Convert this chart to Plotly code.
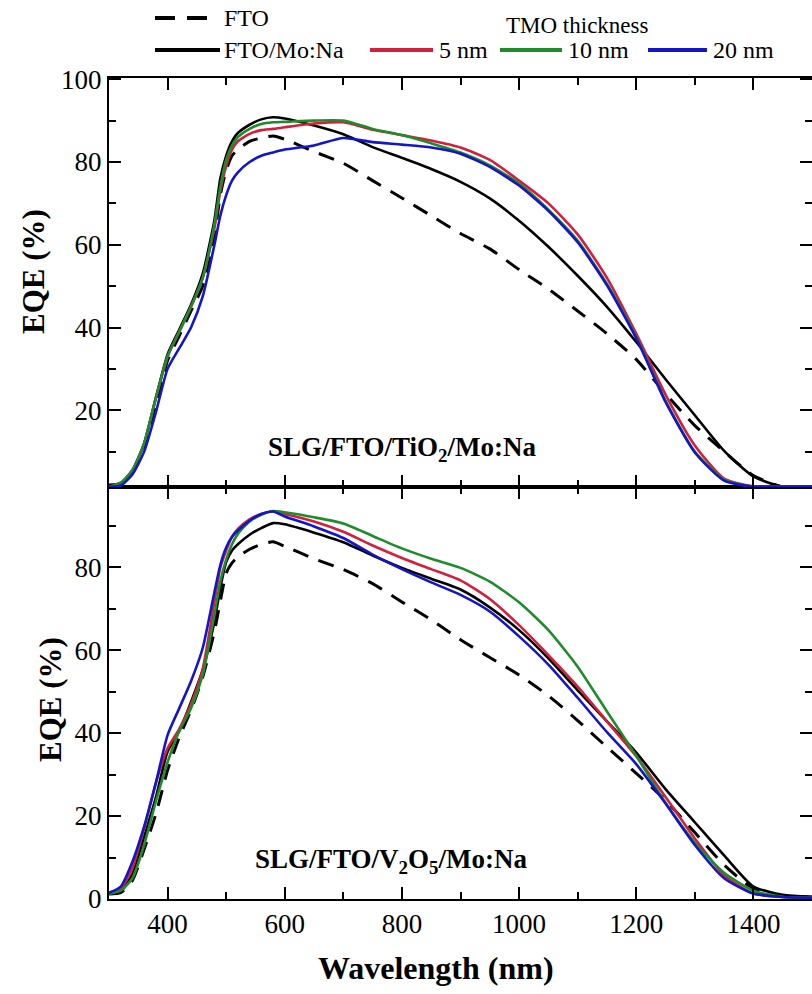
import plotly.graph_objects as go

# ---------------- data ----------------
wl = [300, 320, 340, 360, 380, 400, 420, 440, 460, 480, 490, 500, 510, 520, 540, 560, 580, 600,
      650, 700, 750, 800, 850, 900, 950, 1000, 1050, 1100, 1150, 1200, 1250, 1300, 1350, 1400, 1450, 1500]

# Top panel: SLG/FTO/TiO2/Mo:Na
top_fto = [1.8, 2.0, 5.0, 11.0, 21.0, 32.0, 38.0, 44.0, 50.0, 62.0, 72.0, 78.0, 81.5, 83.0, 85.0, 85.8, 86.3, 85.5,
           82.5, 79.7, 75.5, 71.3, 67.0, 62.7, 59.0, 54.0, 49.3, 44.0, 38.5, 32.3, 24.0, 16.3, 10.0, 4.2, 1.5, 1.5]
top_mona = [2.0, 2.3, 5.5, 12.0, 23.0, 33.5, 39.5, 45.5, 53.0, 66.0, 76.0, 81.5, 85.0, 87.0, 89.0, 90.3, 90.8, 90.5,
            88.8, 86.7, 83.6, 81.0, 78.3, 75.2, 71.2, 65.8, 59.5, 52.5, 45.0, 36.5, 27.5, 18.8, 10.2, 4.0, 1.5, 1.5]
top_5 = [1.5, 2.5, 5.5, 12.0, 23.0, 33.0, 39.0, 45.0, 52.0, 64.0, 73.0, 79.0, 83.0, 85.0, 86.8, 87.7, 88.0, 88.4,
         89.3, 89.6, 87.8, 86.5, 85.2, 83.5, 80.5, 75.5, 70.0, 62.5, 52.0, 38.5, 23.8, 11.5, 3.5, 1.6, 1.5, 1.5]
top_10 = [1.5, 2.5, 5.5, 12.0, 23.0, 33.0, 39.0, 45.0, 52.0, 65.0, 74.0, 80.5, 84.0, 86.0, 88.0, 89.2, 89.6, 89.7,
          90.0, 90.0, 88.0, 86.5, 84.5, 82.3, 79.2, 74.8, 68.5, 61.0, 50.5, 37.7, 22.3, 10.0, 3.2, 1.5, 1.5, 1.5]
top_20 = [1.5, 1.8, 4.5, 10.0, 19.5, 30.0, 35.0, 40.0, 47.5, 60.0, 67.0, 72.0, 75.5, 77.5, 80.0, 81.5, 82.3, 83.0,
          84.0, 85.8, 84.8, 84.2, 83.5, 82.0, 78.8, 74.3, 68.2, 60.6, 50.2, 37.4, 22.0, 9.8, 3.0, 1.5, 1.5, 1.5]

# Bottom panel: SLG/FTO/V2O5/Mo:Na
bot_fto = [1.2, 1.5, 4.5, 12.0, 20.5, 31.0, 39.0, 45.5, 53.5, 64.5, 71.8, 78.5, 81.0, 82.5, 84.3, 85.5, 86.1, 85.0,
           82.0, 79.4, 76.0, 71.6, 67.3, 62.5, 58.2, 54.0, 49.0, 43.0, 36.6, 30.3, 23.8, 16.0, 8.2, 2.5, 0.8, 0.5]
bot_mona = [1.4, 1.8, 6.0, 15.0, 24.5, 35.5, 40.5, 47.5, 55.2, 66.9, 75.0, 81.2, 84.0, 85.5, 87.8, 89.4, 90.6, 90.3,
            88.3, 86.0, 82.8, 79.8, 77.2, 74.6, 70.3, 64.8, 58.0, 50.3, 42.8, 35.3, 26.5, 18.5, 10.5, 3.0, 1.0, 0.5]
bot_5 = [1.5, 2.5, 7.5, 17.0, 28.0, 36.3, 41.0, 47.0, 55.5, 71.7, 79.8, 84.0, 87.3, 89.2, 91.5, 92.8, 93.4, 92.8,
         91.0, 88.5, 85.2, 82.2, 79.5, 76.8, 72.3, 66.0, 58.8, 51.2, 42.8, 34.4, 24.6, 14.6, 5.7, 1.3, 0.5, 0.3]
bot_10 = [1.3, 2.0, 5.0, 13.0, 23.5, 33.0, 40.5, 46.0, 54.0, 68.5, 76.5, 81.8, 85.5, 88.0, 91.0, 92.6, 93.5, 93.2,
          92.0, 90.5, 87.5, 84.5, 82.0, 79.8, 76.5, 71.5, 64.8, 56.0, 45.2, 34.5, 23.2, 13.6, 6.3, 2.0, 0.5, 0.3]
bot_20 = [1.5, 3.0, 9.0, 17.5, 28.0, 39.5, 46.0, 52.5, 60.5, 74.0, 80.5, 84.7, 87.3, 88.8, 91.2, 92.8, 93.4, 92.2,
          89.8, 87.0, 83.0, 79.5, 76.3, 73.3, 69.3, 63.3, 56.5, 48.5, 40.2, 32.5, 23.0, 13.0, 5.0, 1.3, 0.5, 0.3]

x_range = [300, 1500]
top_y_range = [1.45, 100.3]
bot_y_range = [0, 99.3]
x_tick_step = 200
y_tick_step = 20

series_names = ["FTO", "FTO/Mo:Na", "5 nm", "10 nm", "20 nm"]
colors = ["black", "black", "#d21f3c", "#1f8c2a", "#1414c8"]
dashes = ["16px,11px", "solid", "solid", "solid", "solid"]

# ---------------- geometry helpers (pixels -> paper) ----------------
W_FIG, H_FIG = 812, 994
L, R, T, B = 109, 0, 78, 95
PW = W_FIG - L - R
PH = H_FIG - T - B
def xp(px):
    return (px - L) / PW
def yp(py):
    return (H_FIG - B - py) / PH

split = yp(487)

FONT = "Liberation Serif, Times New Roman, serif"

fig = go.Figure()

top_data = [top_fto, top_mona, top_5, top_10, top_20]
bot_data = [bot_fto, bot_mona, bot_5, bot_10, bot_20]

for i, name in enumerate(series_names):
    w = 3 if i == 0 else 2.6
    fig.add_trace(go.Scatter(x=wl, y=top_data[i], mode="lines", name=name, showlegend=False,
                             line=dict(color=colors[i], width=w, dash=dashes[i], shape="spline", smoothing=0.6),
                             xaxis="x2", yaxis="y2"))
for i, name in enumerate(series_names):
    w = 3 if i == 0 else 2.6
    fig.add_trace(go.Scatter(x=wl, y=bot_data[i], mode="lines", name=name, showlegend=False,
                             line=dict(color=colors[i], width=w, dash=dashes[i], shape="spline", smoothing=0.6),
                             xaxis="x", yaxis="y"))

# empty helper traces so the mirrored (frame) axes are drawn
for xa, ya in [("x3", "y"), ("x", "y3"), ("x4", "y2"), ("x2", "y4")]:
    fig.add_trace(go.Scatter(x=[], y=[], mode="lines", showlegend=False, hoverinfo="skip",
                             xaxis=xa, yaxis=ya))

tickfont = dict(family=FONT, size=27, color="black")
base_ax = dict(showline=True, linecolor="black", linewidth=2,
               ticks="inside", ticklen=12, tickwidth=2, tickcolor="black",
               showgrid=False, zeroline=False, tickfont=tickfont)

minor_x = dict(dtick=100, tick0=0, ticks="inside", ticklen=7, tickwidth=2, tickcolor="black", showgrid=False)
minor_y = dict(dtick=10, tick0=0, ticks="inside", ticklen=7, tickwidth=2, tickcolor="black", showgrid=False)

def xax(**kw):
    d = dict(base_ax)
    d.update(range=x_range, tickmode="linear", tick0=0, dtick=x_tick_step, minor=minor_x, domain=[0, 1])
    d.update(kw)
    return d

def yax(rng, dom, **kw):
    d = dict(base_ax)
    d.update(range=rng, tickmode="linear", tick0=0, dtick=y_tick_step, minor=minor_y, domain=dom)
    d.update(kw)
    return d

fig.update_layout(
    width=W_FIG, height=H_FIG,
    margin=dict(l=L, r=R, t=T, b=B),
    paper_bgcolor="white", plot_bgcolor="white",
    showlegend=False,
    # bottom panel
    xaxis=xax(anchor="y", side="bottom"),
    xaxis3=xax(anchor="y", overlaying="x", side="top", showticklabels=False),
    yaxis=yax(bot_y_range, [0, split], anchor="x", side="left"),
    yaxis3=yax(bot_y_range, [0, split], anchor="x", overlaying="y", side="right", showticklabels=False),
    # top panel
    xaxis2=xax(anchor="y2", side="bottom", showticklabels=False),
    xaxis4=xax(anchor="y2", overlaying="x2", side="top", showticklabels=False),
    yaxis2=yax(top_y_range, [split, 1], anchor="x2", side="left"),
    yaxis4=yax(top_y_range, [split, 1], anchor="x2", overlaying="y2", side="right", showticklabels=False),
)

ann = []
# axis titles
ann.append(dict(text="<b>EQE (%)</b>", x=xp(33), y=yp(272), xref="paper", yref="paper", textangle=-90,
                showarrow=False, font=dict(family=FONT, size=31, color="black"), xanchor="center", yanchor="middle"))
ann.append(dict(text="<b>EQE (%)</b>", x=xp(50), y=yp(700), xref="paper", yref="paper", textangle=-90,
                showarrow=False, font=dict(family=FONT, size=31, color="black"), xanchor="center", yanchor="middle"))
ann.append(dict(text="<b>Wavelength (nm)</b>", x=xp(436), y=yp(968), xref="paper", yref="paper",
                showarrow=False, font=dict(family=FONT, size=32, color="black"), xanchor="center", yanchor="middle"))
# panel labels
ann.append(dict(text="<b>SLG/FTO/TiO<sub>2</sub>/Mo:Na</b>", x=xp(266), y=yp(449), xref="paper", yref="paper",
                showarrow=False, font=dict(family=FONT, size=27, color="black"), xanchor="left", yanchor="middle"))
ann.append(dict(text="<b>SLG/FTO/V<sub>2</sub>O<sub>5</sub>/Mo:Na</b>", x=xp(253), y=yp(861), xref="paper", yref="paper",
                showarrow=False, font=dict(family=FONT, size=27, color="black"), xanchor="left", yanchor="middle"))

# legend (custom layout)
legfont = dict(family=FONT, size=24, color="black")
shapes = []
leg_items = [
    (0, 155, 207, 18, 222),
    (1, 155, 220, 50, 222),
    (2, 370, 433, 50, 437),
    (3, 500, 562, 50, 566),
    (4, 648, 707, 50, 711),
]
for idx, x0, x1, yy, tx in leg_items:
    dash = "20px,12px" if idx == 0 else "solid"
    shapes.append(dict(type="line", xref="paper", yref="paper", x0=xp(x0), x1=xp(x1), y0=yp(yy), y1=yp(yy),
                       line=dict(color=colors[idx], width=4, dash=dash)))
    ann.append(dict(text=series_names[idx], x=xp(tx), y=yp(yy), xref="paper", yref="paper", showarrow=False,
                    font=legfont, xanchor="left", yanchor="middle"))
ann.append(dict(text="TMO thickness", x=xp(504), y=yp(26), xref="paper", yref="paper", showarrow=False,
                font=dict(family=FONT, size=23, color="black"), xanchor="left", yanchor="middle"))

fig.update_layout(annotations=ann, shapes=shapes)

fig.write_html("out.html")
